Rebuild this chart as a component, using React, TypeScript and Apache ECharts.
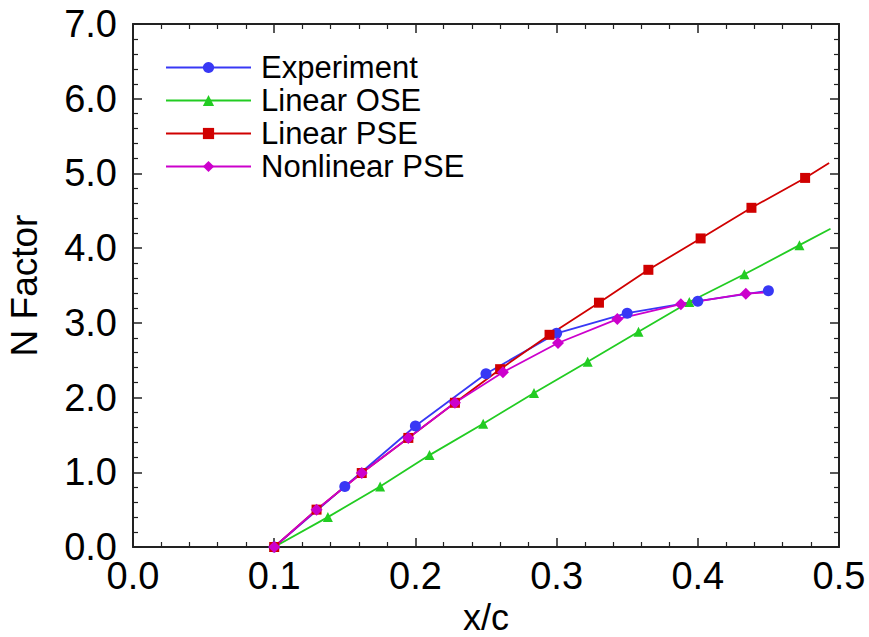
import React, { useEffect, useRef } from "react";
import * as echarts from "echarts";

const expX = [0.1, 0.15, 0.2, 0.25, 0.3, 0.35, 0.4, 0.45];
const expY = [0.0, 0.81, 1.62, 2.32, 2.86, 3.13, 3.29, 3.43];

const oseX = [0.1, 0.138, 0.175, 0.21, 0.248, 0.284, 0.322, 0.358, 0.394, 0.433, 0.472, 0.494];
const oseY = [0.0, 0.4, 0.81, 1.23, 1.65, 2.06, 2.48, 2.88, 3.28, 3.65, 4.04, 4.26];
const oseMarked = [true, true, true, true, true, true, true, true, true, true, true, false];

const lpseX = [0.1, 0.13, 0.162, 0.195, 0.228, 0.26, 0.295, 0.33, 0.365, 0.402, 0.438, 0.476, 0.493];
const lpseY = [0.0, 0.5, 0.99, 1.46, 1.93, 2.38, 2.84, 3.27, 3.71, 4.13, 4.54, 4.94, 5.14];
const lpseMarked = [true, true, true, true, true, true, true, true, true, true, true, true, false];

const nlpseX = [0.1, 0.13, 0.162, 0.195, 0.228, 0.262, 0.301, 0.343, 0.388, 0.434, 0.45];
const nlpseY = [0.0, 0.5, 0.99, 1.46, 1.93, 2.34, 2.73, 3.05, 3.25, 3.39, 3.41];
const nlpseMarked = [true, true, true, true, true, true, true, true, true, true, false];

const seriesNames = ["Experiment", "Linear OSE", "Linear PSE", "Nonlinear PSE"];
const seriesColors = ["#3838f5", "#22cc22", "#d00000", "#cc00cc"];

const FONT = "Liberation Sans";

function build(xs: number[], ys: number[], marked?: boolean[]) {
  return xs.map((x, i) =>
    marked && !marked[i] ? { value: [x, ys[i]], symbol: "none" } : { value: [x, ys[i]] }
  );
}

export default function App() {
  const ref = useRef<HTMLDivElement>(null);
  useEffect(() => {
    document.body.style.margin = "0";
    const chart = echarts.init(ref.current!, null, { renderer: "svg" });
    const axisLine = { show: true, onZero: false, lineStyle: { color: "#222", width: 2 } };
    const tickIn = { show: true, inside: true, length: 9, lineStyle: { color: "#222", width: 1.5 } };
    const minorIn = { show: true, splitNumber: 5, length: 5, lineStyle: { color: "#222", width: 1.2 } };
    const fmt = (v: number) => v.toFixed(1);
    chart.setOption({
      animation: false,
      backgroundColor: "#fff",
      grid: { left: 133, top: 24, right: 30, bottom: 90, outerBoundsMode: "none", containLabel: false },
      legend: {
        orient: "vertical",
        left: 160,
        top: 47,
        itemWidth: 85,
        itemHeight: 14,
        itemGap: 2,
        data: seriesNames,
        textStyle: { fontFamily: FONT, fontSize: 31, color: "#000", padding: [0, 0, 0, 5] },
      },
      xAxis: [
        {
          type: "value",
          min: 0,
          max: 0.5,
          interval: 0.1,
          name: "x/c",
          nameLocation: "middle",
          nameGap: 50,
          nameTextStyle: { fontFamily: FONT, fontSize: 36, color: "#000", verticalAlign: "top" },
          axisLine,
          axisTick: tickIn,
          minorTick: minorIn,
          splitLine: { show: false },
          axisLabel: { formatter: fmt, fontFamily: FONT, fontSize: 38, color: "#000", margin: 10 },
        },
        {
          type: "value",
          position: "top",
          min: 0,
          max: 0.5,
          interval: 0.1,
          axisLine,
          axisTick: tickIn,
          minorTick: minorIn,
          splitLine: { show: false },
          axisLabel: { show: false },
        },
      ],
      yAxis: [
        {
          type: "value",
          min: 0,
          max: 7,
          interval: 1,
          name: "N Factor",
          nameLocation: "middle",
          nameGap: 90,
          nameTextStyle: { fontFamily: FONT, fontSize: 37, color: "#000" },
          axisLine,
          axisTick: tickIn,
          minorTick: minorIn,
          splitLine: { show: false },
          axisLabel: { formatter: fmt, fontFamily: FONT, fontSize: 38, color: "#000", margin: 16 },
        },
        {
          type: "value",
          position: "right",
          min: 0,
          max: 7,
          interval: 1,
          axisLine,
          axisTick: tickIn,
          minorTick: minorIn,
          splitLine: { show: false },
          axisLabel: { show: false },
        },
      ],
      series: [
        {
          name: seriesNames[0],
          type: "line",
          data: build(expX, expY),
          symbol: "circle",
          symbolSize: 11,
          color: seriesColors[0],
          lineStyle: { width: 1.8, color: seriesColors[0] },
          itemStyle: { color: seriesColors[0] },
        },
        {
          name: seriesNames[1],
          type: "line",
          data: build(oseX, oseY, oseMarked),
          symbol: "triangle",
          symbolSize: 10,
          color: seriesColors[1],
          lineStyle: { width: 1.8, color: seriesColors[1] },
          itemStyle: { color: seriesColors[1] },
        },
        {
          name: seriesNames[2],
          type: "line",
          data: build(lpseX, lpseY, lpseMarked),
          symbol: "rect",
          symbolSize: 10,
          color: seriesColors[2],
          lineStyle: { width: 1.8, color: seriesColors[2] },
          itemStyle: { color: seriesColors[2] },
        },
        {
          name: seriesNames[3],
          type: "line",
          data: build(nlpseX, nlpseY, nlpseMarked),
          symbol: "diamond",
          symbolSize: 12,
          color: seriesColors[3],
          lineStyle: { width: 1.8, color: seriesColors[3] },
          itemStyle: { color: seriesColors[3] },
        },
      ],
    });
    return () => chart.dispose();
  }, []);
  return <div ref={ref} style={{ width: 869, height: 637 }} />;
}
